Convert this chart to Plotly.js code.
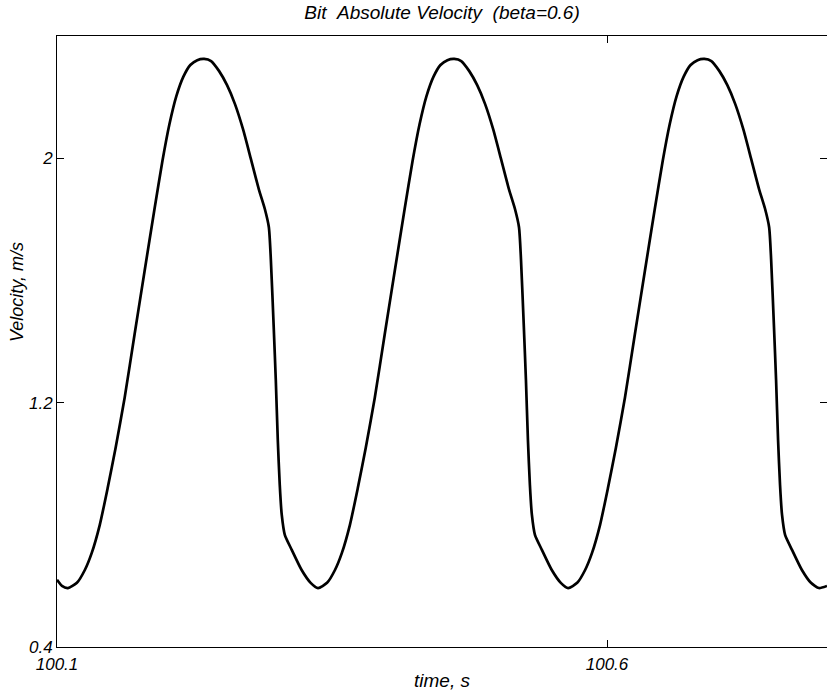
<!DOCTYPE html>
<html>
<head>
<meta charset="utf-8">
<script src="https://cdn.plot.ly/plotly-3.0.1.min.js"></script>
<style>html,body{margin:0;padding:0;background:#fff;}#chart{width:827px;height:696px;}</style>
</head>
<body>
<div id="chart"></div>
<script>
// time, s
const timeS = [
  100.1000,100.1045,100.1099,100.1181,100.1253,100.1316,100.1389,100.1461,100.1533,100.1615,
  100.1705,100.1796,100.1886,100.1958,100.2022,100.2085,100.2148,100.2212,100.2275,100.2338,
  100.2401,100.2474,100.2546,100.2618,100.2691,100.2763,100.2835,100.2890,100.2926,100.2944,
  100.2971,100.2989,100.3007,100.3025,100.3043,100.3071,100.3134,100.3224,100.3306,
  100.3373,100.3455,100.3527,100.3590,100.3663,100.3735,100.3807,100.3889,100.3979,100.4070,
  100.4160,100.4232,100.4296,100.4359,100.4422,100.4486,100.4549,100.4612,100.4675,100.4748,
  100.4820,100.4892,100.4965,100.5037,100.5109,100.5164,100.5200,100.5218,100.5245,100.5263,
  100.5281,100.5299,100.5317,100.5345,100.5408,100.5498,100.5580,
  100.5647,100.5729,100.5801,100.5864,100.5937,100.6009,100.6081,100.6163,100.6253,100.6344,
  100.6434,100.6506,100.6570,100.6633,100.6696,100.6760,100.6823,100.6886,100.6949,100.7022,
  100.7094,100.7166,100.7239,100.7311,100.7383,100.7438,100.7474,100.7492,100.7519,100.7537,
  100.7555,100.7573,100.7591,100.7619,100.7682,100.7772,100.7854,100.7926,100.8000
];
// Velocity, m/s
const velocity = [
  0.620,0.600,0.593,0.610,0.652,0.708,0.800,0.921,1.052,1.216,
  1.423,1.630,1.833,1.990,2.111,2.203,2.266,2.305,2.321,2.325,
  2.318,2.285,2.239,2.177,2.095,1.997,1.898,1.833,1.774,1.669,
  1.439,1.275,1.079,0.931,0.833,0.767,0.718,0.652,0.610,
  0.593,0.610,0.652,0.708,0.800,0.921,1.052,1.216,1.423,1.630,
  1.833,1.990,2.111,2.203,2.266,2.305,2.321,2.325,2.318,2.285,
  2.239,2.177,2.095,1.997,1.898,1.833,1.774,1.669,1.439,1.275,
  1.079,0.931,0.833,0.767,0.718,0.652,0.610,
  0.593,0.610,0.652,0.708,0.800,0.921,1.052,1.216,1.423,1.630,
  1.833,1.990,2.111,2.203,2.266,2.305,2.321,2.325,2.318,2.285,
  2.239,2.177,2.095,1.997,1.898,1.833,1.774,1.669,1.439,1.275,
  1.079,0.931,0.833,0.767,0.718,0.652,0.610,0.593,0.600
];
const xTicks = [100.1, 100.6];
const xTickText = ["100.1", "100.6"];
const yTicks = [0.4, 1.2, 2];
const yTickText = ["0.4", "1.2", "2"];
const titleText = "Bit&nbsp;&nbsp;Absolute Velocity&nbsp;&nbsp;(beta=0.6)";
const xTitle = "time, s";
const yTitle = "Velocity, m/s";

const FONT = "'Liberation Sans', Arial, Helvetica, sans-serif";

const trace = {
  x: timeS, y: velocity, type: 'scatter', mode: 'lines',
  line: {color: '#000', width: 2.7, shape: 'spline', smoothing: 0.6},
  hoverinfo: 'skip'
};

const axisCommon = {
  showline: true, linecolor: '#000', linewidth: 1, mirror: 'ticks',
  ticks: 'inside', ticklen: 7, tickcolor: '#000', tickwidth: 1,
  showgrid: false, zeroline: false, tickmode: 'array',
  tickfont: {family: FONT, size: 17, color: '#000', style: 'italic'}
};

const layout = {
  width: 827, height: 696,
  margin: {l: 57, r: 0, t: 36, b: 49, pad: 0},
  paper_bgcolor: '#fff', plot_bgcolor: '#fff',
  showlegend: false,
  title: {text: titleText, x: 0.5, xref: 'paper', xanchor: 'center',
          y: 1 - 12/696, yref: 'container', yanchor: 'middle',
          font: {family: FONT, size: 19, color: '#000', style: 'italic'}},
  xaxis: Object.assign({}, axisCommon, {range: [100.1, 100.8], tickvals: xTicks, ticktext: xTickText, ticklabelstandoff: 2}),
  yaxis: Object.assign({}, axisCommon, {range: [0.4, 2.4], tickvals: yTicks, ticktext: yTickText}),
  annotations: [
    {text: xTitle, xref: 'paper', yref: 'paper', x: 0.5, y: (647-680)/611,
     xanchor: 'center', yanchor: 'middle', showarrow: false,
     font: {family: FONT, size: 19, color: '#000', style: 'italic'}},
    {text: yTitle, xref: 'paper', yref: 'paper', x: (17-57)/770, y: (647-292)/611,
     xanchor: 'center', yanchor: 'middle', showarrow: false, textangle: -90,
     font: {family: FONT, size: 18, color: '#000', style: 'italic'}}
  ]
};

Plotly.newPlot('chart', [trace], layout, {staticPlot: true, displayModeBar: false});
</script>
</body>
</html>
